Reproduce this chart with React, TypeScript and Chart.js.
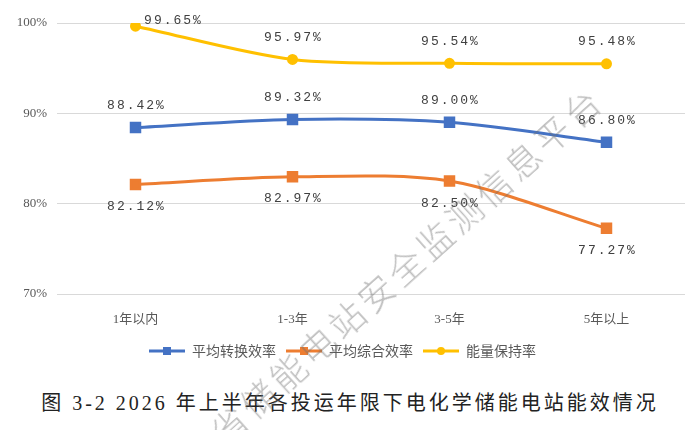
import React, { useEffect, useRef } from 'react';
import { Chart, registerables } from 'chart.js';

Chart.register(...registerables);

const categories = ['1年以内', '1-3年', '3-5年', '5年以上'];
const conversionEff = [88.42, 89.32, 89.0, 86.8];
const overallEff = [82.12, 82.97, 82.5, 77.27];
const retention = [99.65, 95.97, 95.54, 95.48];
const seriesNames = ['平均转换效率', '平均综合效率', '能量保持率'];
const yMin = 70;
const yMax = 100;
const yStep = 10;
const titleText = '图 3-2 2026 年上半年各投运年限下电化学储能电站能效情况';
const watermarkText = '省储能电站安全监测信息平台';

const BLUE = '#4472C4';
const ORANGE = '#ED7D31';
const GOLD = '#FFC000';

function legendIcon(color: string, style: 'rect' | 'circle') {
  const c = document.createElement('canvas');
  c.width = 36;
  c.height = 12;
  const ctx = c.getContext('2d')!;
  ctx.strokeStyle = color;
  ctx.lineWidth = 3;
  ctx.beginPath();
  ctx.moveTo(0, 6);
  ctx.lineTo(36, 6);
  ctx.stroke();
  ctx.fillStyle = color;
  if (style === 'rect') {
    ctx.fillRect(14, 2, 8, 8);
  } else {
    ctx.beginPath();
    ctx.arc(18, 6, 4, 0, Math.PI * 2);
    ctx.fill();
  }
  return c;
}

const dataLabelPlugin = {
  id: 'dataLabels',
  afterDatasetsDraw(chart: any) {
    const ctx = chart.ctx;
    ctx.save();
    ctx.font = '13px "Liberation Mono", monospace';
    (ctx as any).letterSpacing = '2px';
    ctx.fillStyle = '#404040';
    ctx.textAlign = 'center';
    ctx.textBaseline = 'middle';
    chart.data.datasets.forEach((ds: any, di: number) => {
      const meta = chart.getDatasetMeta(di);
      meta.data.forEach((pt: any, i: number) => {
        const v = ds.data[i] as number;
        let dx = 0;
        let dy = ds.labelBelow ? 22 : -22;
        if (ds.firstLabelRight && i === 0) {
          dx = 37;
          dy = -6;
        }
        ctx.fillText(v.toFixed(2) + '%', pt.x + dx + 1, pt.y + dy);
      });
    });
    ctx.restore();
  },
};

export default function App() {
  const canvasRef = useRef<HTMLCanvasElement | null>(null);

  useEffect(() => {
    document.body.style.margin = '0';
    const canvas = canvasRef.current!;
    const icons = [legendIcon(BLUE, 'rect'), legendIcon(ORANGE, 'rect'), legendIcon(GOLD, 'circle')];
    const chart = new Chart(canvas, {
      type: 'line',
      data: {
        labels: categories,
        datasets: [
          {
            label: seriesNames[0],
            data: conversionEff,
            borderColor: BLUE,
            backgroundColor: BLUE,
            borderWidth: 3,
            pointStyle: 'rect',
            pointRadius: 6,
            tension: 0.3,
          } as any,
          {
            label: seriesNames[1],
            data: overallEff,
            borderColor: ORANGE,
            backgroundColor: ORANGE,
            borderWidth: 3,
            pointStyle: 'rect',
            pointRadius: 6,
            tension: 0.3,
            labelBelow: true,
          } as any,
          {
            label: seriesNames[2],
            data: retention,
            borderColor: GOLD,
            backgroundColor: GOLD,
            borderWidth: 3,
            pointStyle: 'circle',
            pointRadius: 4,
            tension: 0.3,
            firstLabelRight: true,
          } as any,
        ],
      },
      options: {
        responsive: false,
        animation: false,
        layout: { padding: { top: 23, right: 15, left: 0, bottom: 2 } },
        plugins: {
          tooltip: { enabled: false },
          legend: {
            position: 'bottom',
            labels: {
              usePointStyle: true,
              pointStyleWidth: 36,
              padding: 10,
              color: '#595959',
              font: { size: 14, family: '"Noto Sans CJK SC", sans-serif' },
              generateLabels: (ch: any) =>
                ch.data.datasets.map((ds: any, i: number) => ({
                  text: ds.label,
                  pointStyle: icons[i],
                  fillStyle: ds.borderColor,
                  strokeStyle: ds.borderColor,
                  lineWidth: 0,
                  hidden: false,
                  datasetIndex: i,
                  fontColor: '#595959',
                })),
            },
          },
        },
        scales: {
          x: {
            offset: true,
            grid: { display: false },
            border: { display: false },
            ticks: {
              color: '#595959',
              padding: 10,
              font: { size: 13, family: '"Liberation Serif", "Noto Sans CJK SC", serif' },
            },
            afterFit: (axis: any) => {
              axis.height = 40;
            },
          },
          y: {
            min: yMin,
            max: yMax,
            grid: { color: '#D9D9D9', drawTicks: false, lineWidth: 1 },
            border: { display: false },
            ticks: {
              stepSize: yStep,
              padding: 10,
              color: '#595959',
              font: { size: 13, family: '"Liberation Serif", serif' },
              callback: (v: any) => v + '%',
            },
            afterFit: (axis: any) => {
              axis.width = 57;
            },
          },
        },
      },
      plugins: [dataLabelPlugin],
    });
    return () => chart.destroy();
  }, []);

  return (
    <div
      style={{
        position: 'relative',
        width: 700,
        height: 430,
        overflow: 'hidden',
        background: '#fff',
      }}
    >
      <canvas ref={canvasRef} width={700} height={370} style={{ position: 'absolute', left: 0, top: 0 }} />
      <div
        style={{
          position: 'absolute',
          left: 0,
          width: 700,
          top: 388,
          textAlign: 'center',
          fontFamily: '"Liberation Serif", "Noto Sans CJK SC", serif',
          fontSize: 20,
          letterSpacing: 3,
          color: '#222',
          whiteSpace: 'nowrap',
          lineHeight: '30px',
        }}
      >
        {titleText}
      </div>
      <div
        style={{
          position: 'absolute',
          left: 406,
          top: 264,
          transform: 'translate(-50%, -50%) rotate(-42deg)',
          fontFamily: '"Noto Sans CJK SC", sans-serif',
          fontSize: 35,
          letterSpacing: 4.5,
          color: 'rgba(110,110,110,0.45)',
          whiteSpace: 'nowrap',
          pointerEvents: 'none',
          fontWeight: 300,
        }}
      >
        {watermarkText}
      </div>
    </div>
  );
}
